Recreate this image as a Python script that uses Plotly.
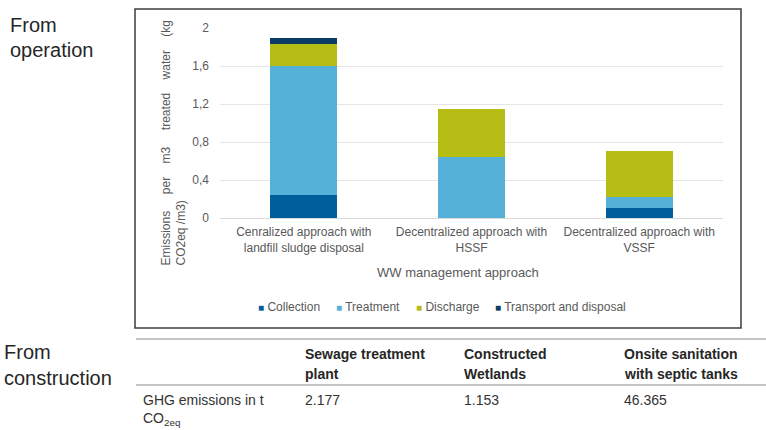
import plotly.graph_objects as go

# ---------------- data ----------------
categories = [
    "Cenralized approach with<br>landfill sludge disposal",
    "Decentralized approach with<br>HSSF",
    "Decentralized approach with<br>VSSF",
]
series_names = ["Collection", "Treatment", "Discharge", "Transport and disposal"]
collection = [0.24, 0.0, 0.11]
treatment = [1.36, 0.645, 0.115]
discharge = [0.23, 0.50, 0.48]
transport = [0.07, 0.0, 0.0]
y_tickvals = [0, 0.4, 0.8, 1.2, 1.6, 2]
y_ticktext = ["0", "0,4", "0,8", "1,2", "1,6", "2"]

table_header = [["Sewage treatment", "plant"], ["Constructed", "Wetlands"],
                ["Onsite sanitation", "with septic tanks"]]
table_row_label = ["GHG emissions in t", "CO<sub>2eq</sub>"]
table_values = ["2.177", "1.153", "46.365"]

# ---------------- styles ----------------
colors = ["#005f9b", "#56b1d9", "#b6bd15", "#0c3b63"]
FONT = "Liberation Sans, Arial, sans-serif"
W, H = 766, 430
PX_L, PX_R, PX_T, PX_B = 220, 723, 28, 218


def px(x):
    return (x - PX_L) / (PX_R - PX_L)


def py(y):
    return (PX_B - y) / (PX_B - PX_T)


fig = go.Figure()
for name, vals, col in zip(series_names, [collection, treatment, discharge, transport], colors):
    fig.add_trace(go.Bar(x=categories, y=vals, name=name, marker_color=col,
                         marker_line_width=0, showlegend=False))

annotations = []
# y-axis title (two rotated lines)
sp = "&nbsp;" * 4
line1 = ("Emissions" + sp + "&nbsp;per" + sp + "m3" + sp + "&nbsp;treated" + sp + "water" + sp + "(kg")
annotations.append(dict(text=line1, x=px(165), y=py(268), xref="paper", yref="paper",
                        textangle=-90, xanchor="center", yanchor="bottom", showarrow=False,
                        font=dict(family=FONT, size=12, color="#595959")))
annotations.append(dict(text="CO2eq /m3)", x=px(180), y=py(268), xref="paper", yref="paper",
                        textangle=-90, xanchor="center", yanchor="bottom", showarrow=False,
                        font=dict(family=FONT, size=12, color="#595959")))
# x-axis title
annotations.append(dict(text="WW management approach", x=px(458), y=py(272), xref="paper",
                        yref="paper", xanchor="center", yanchor="middle", showarrow=False,
                        font=dict(family=FONT, size=13, color="#595959")))
# legend
legend_x = [256, 334, 414, 493]
for name, col, lx in zip(series_names, colors, legend_x):
    annotations.append(dict(
        text=f"<span style='color:{col};font-size:10px'>■</span> {name}",
        x=px(lx), y=py(307), xref="paper", yref="paper", xanchor="left", yanchor="middle",
        showarrow=False, font=dict(family=FONT, size=12, color="#595959")))

# left side labels
for txt, x, y in [("From", 8, 25), ("operation", 8, 50), ("From", 2, 352), ("construction", 2, 378)]:
    annotations.append(dict(text=txt, x=px(x), y=py(y), xref="paper", yref="paper",
                            xanchor="left", yanchor="middle", showarrow=False,
                            font=dict(family=FONT, size=20, color="#262626")))

# table
col_x = [303, 462, 622]
for hdr, cx in zip(table_header, col_x):
    for ln, yy in zip(hdr, [354, 374]):
        annotations.append(dict(text=f"<b>{ln}</b>", x=px(cx), y=py(yy), xref="paper",
                                yref="paper", xanchor="left", yanchor="middle", showarrow=False,
                                font=dict(family=FONT, size=14, color="#262626")))
for ln, yy in zip(table_row_label, [400, 419]):
    annotations.append(dict(text=ln, x=px(141), y=py(yy), xref="paper", yref="paper",
                            xanchor="left", yanchor="middle", showarrow=False,
                            font=dict(family=FONT, size=14, color="#333333")))
for v, cx in zip(table_values, col_x):
    annotations.append(dict(text=v, x=px(cx), y=py(400), xref="paper", yref="paper",
                            xanchor="left", yanchor="middle", showarrow=False,
                            font=dict(family=FONT, size=14, color="#333333")))

shapes = [
    dict(type="rect", xref="paper", yref="paper", x0=px(135), x1=px(741), y0=py(328), y1=py(9),
         line=dict(color="#3c3c3c", width=1.5), layer="below"),
    dict(type="line", xref="paper", yref="paper", x0=px(136), x1=px(766), y0=py(339), y1=py(339),
         line=dict(color="#c4c4c4", width=2)),
    dict(type="line", xref="paper", yref="paper", x0=px(136), x1=px(766), y0=py(385), y1=py(385),
         line=dict(color="#c4c4c4", width=2)),
]

fig.update_layout(
    width=W, height=H,
    margin=dict(l=PX_L, r=W - PX_R, t=PX_T, b=H - PX_B, autoexpand=False),
    barmode="stack", bargap=0.6,
    paper_bgcolor="white", plot_bgcolor="white",
    font=dict(family=FONT, size=12, color="#595959"),
    annotations=annotations, shapes=shapes,
    xaxis=dict(showgrid=False, showline=False, ticks="", automargin=False,
               tickfont=dict(family=FONT, size=12, color="#595959"), ticklabelstandoff=5,
               fixedrange=True),
    yaxis=dict(range=[0, 2], tickvals=y_tickvals, ticktext=y_ticktext, showgrid=True,
               gridcolor="#e6e6e6", gridwidth=1, zeroline=True, zerolinecolor="#d9d9d9",
               zerolinewidth=1, showline=False, ticks="", automargin=False,
               ticklabelstandoff=10, tickfont=dict(family=FONT, size=12, color="#595959"),
               fixedrange=True),
)

fig.write_html("out.html", config={"displayModeBar": False},
               post_script="document.body.style.margin='0';document.body.style.overflow='hidden';")
